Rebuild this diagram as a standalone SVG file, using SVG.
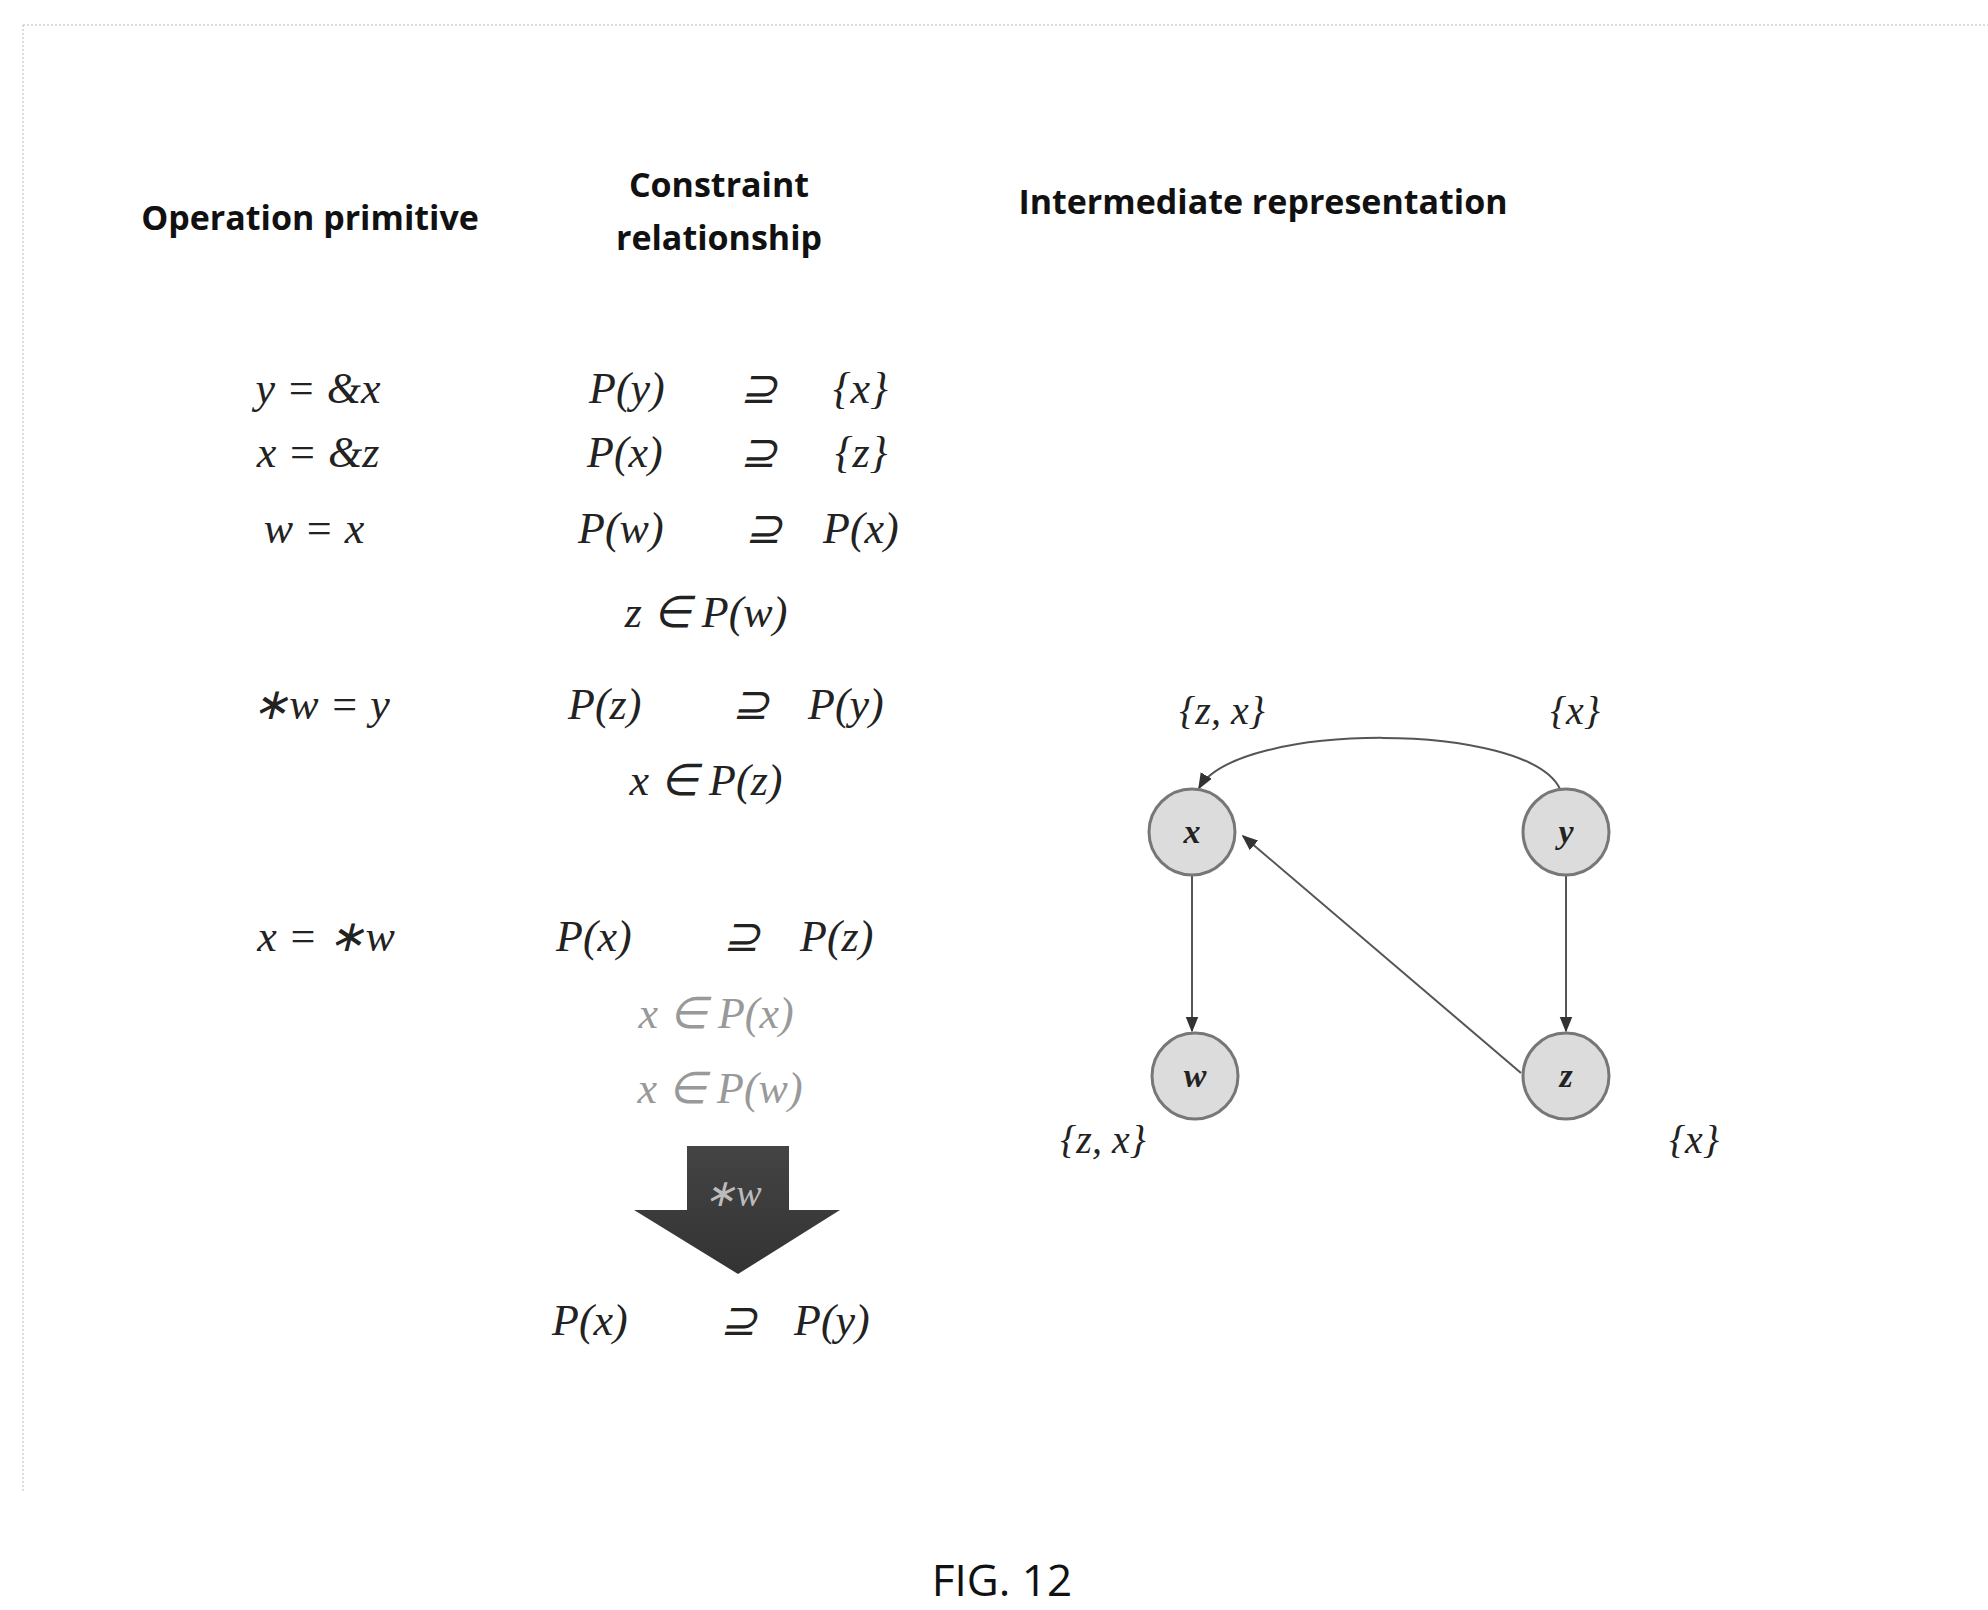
<svg xmlns="http://www.w3.org/2000/svg" width="1988" height="1610" viewBox="0 0 1988 1610">
<defs>
<style>
.h{font-family:"Open Sans","Liberation Sans",sans-serif;font-weight:bold;font-size:34px;fill:#111;text-anchor:middle}
.m{font-family:"Liberation Serif",serif;font-style:italic;font-size:44px;fill:#222}
.g{fill:#999}
.c{text-anchor:middle}
.n{fill:#dcdcdc;stroke:#777;stroke-width:3}
.nl{font-family:"Liberation Serif",serif;font-style:italic;font-weight:bold;font-size:34px;fill:#222;text-anchor:middle}
.e{fill:none;stroke:#555;stroke-width:2}
</style>
<marker id="ah" viewBox="0 0 10 10" refX="9" refY="5" markerWidth="8" markerHeight="8" orient="auto"><path d="M0,1 L10,5 L0,9 z" fill="#333"/></marker>
<linearGradient id="ag" x1="0" y1="0" x2="0" y2="1"><stop offset="0" stop-color="#444"/><stop offset="1" stop-color="#333"/></linearGradient>
</defs>
<rect width="1988" height="1610" fill="#fff"/>
<path d="M23,25 H1988 M23,25 V1492" stroke="#bbb" stroke-width="1" stroke-dasharray="2,2" fill="none"/>
<text class="h" x="310" y="230">Operation primitive</text>
<text class="h" x="719" y="197">Constraint</text>
<text class="h" x="719" y="250">relationship</text>
<text class="h" x="1263" y="214">Intermediate representation</text>
<g id="ops">
<text class="m c" x="318" y="403">y = &amp;x</text>
<text class="m c" x="318" y="467">x = &amp;z</text>
<text class="m c" x="314" y="543">w = x</text>
<text class="m c" x="321" y="719">∗w = y</text>
<text class="m c" x="326" y="951">x =  ∗w</text>
</g>
<g id="constraints">
<text class="m" x="589" y="403">P(y)</text><text class="m" x="740" y="403">⊇</text><text class="m" x="833" y="403">{x}</text>
<text class="m" x="587" y="467">P(x)</text><text class="m" x="740" y="467">⊇</text><text class="m" x="835" y="467">{z}</text>
<text class="m" x="578" y="543">P(w)</text><text class="m" x="745" y="543">⊇</text><text class="m" x="823" y="543">P(x)</text>
<text class="m c" x="706" y="627">z ∈ P(w)</text>
<text class="m" x="568" y="719">P(z)</text><text class="m" x="732" y="719">⊇</text><text class="m" x="808" y="719">P(y)</text>
<text class="m c" x="706" y="795">x ∈ P(z)</text>
<text class="m" x="556" y="951">P(x)</text><text class="m" x="723" y="951">⊇</text><text class="m" x="800" y="951">P(z)</text>
<text class="m c g" x="716" y="1028">x ∈ P(x)</text>
<text class="m c g" x="720" y="1103">x ∈ P(w)</text>
<path d="M687,1146 H789 V1210 H840 L738,1274 L634,1210 H687 Z" fill="url(#ag)"/>
<text class="m c" x="733" y="1206" style="fill:#bbb;font-size:38px">∗w</text>
<text class="m" x="552" y="1335">P(x)</text><text class="m" x="720" y="1335">⊇</text><text class="m" x="794" y="1335">P(y)</text>
</g>
<g id="connectors">
<path class="e" d="M1560,789 C1528,721 1238,721 1199,788" marker-end="url(#ah)"/>
<path class="e" d="M1192,875 V1031" marker-end="url(#ah)"/>
<path class="e" d="M1566,875 V1031" marker-end="url(#ah)"/>
<path class="e" d="M1521,1073 L1243,836" marker-end="url(#ah)"/>
</g>
<g id="node-x"><circle class="n" cx="1192" cy="832" r="43"/><text class="nl" x="1192" y="843">x</text></g>
<g id="node-y"><circle class="n" cx="1566" cy="832" r="43"/><text class="nl" x="1566" y="843">y</text></g>
<g id="node-w"><circle class="n" cx="1195" cy="1076" r="43"/><text class="nl" x="1195" y="1087">w</text></g>
<g id="node-z"><circle class="n" cx="1566" cy="1076" r="43"/><text class="nl" x="1566" y="1087">z</text></g>
<g id="sets">
<text class="m c" x="1222" y="724" style="font-size:40px">{z, x}</text>
<text class="m c" x="1575" y="724" style="font-size:40px">{x}</text>
<text class="m c" x="1103" y="1153" style="font-size:40px">{z, x}</text>
<text class="m c" x="1694" y="1153" style="font-size:40px">{x}</text>
</g>
<text x="1002" y="1596" style="font-family:'Open Sans','Liberation Sans',sans-serif;font-size:44px;fill:#111;text-anchor:middle">FIG. 12</text>
</svg>
